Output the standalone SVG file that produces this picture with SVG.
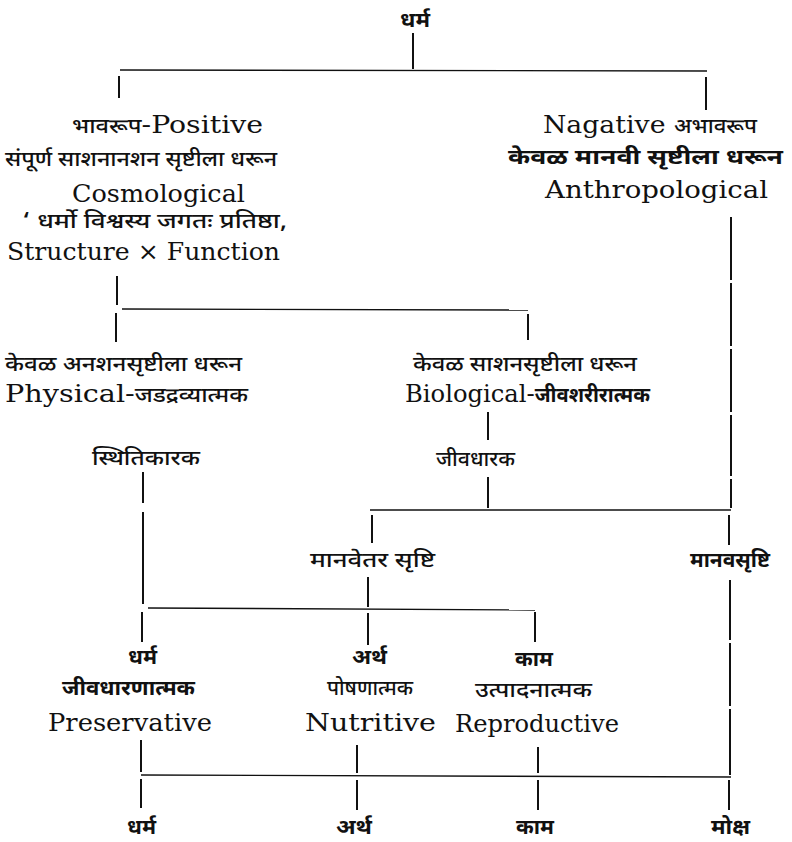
<svg xmlns="http://www.w3.org/2000/svg" width="792" height="842" viewBox="0 0 792 842">
<style>
.bg{fill:#ffffff}
.dv{font-family:"Noto Sans Devanagari","Noto Serif Devanagari","Lohit Devanagari","Noto Sans","DejaVu Sans",sans-serif;font-size:21px;font-weight:500;fill:#111}
.dvb{font-family:"Noto Sans Devanagari","Noto Serif Devanagari","Lohit Devanagari","Noto Sans","DejaVu Sans",sans-serif;font-size:21px;font-weight:bold;fill:#111}
.lt{font-family:"DejaVu Serif","Liberation Serif",serif;font-size:24px;fill:#111}
.ltd{font-family:"Noto Sans Devanagari","Noto Serif Devanagari","Lohit Devanagari","Noto Sans","DejaVu Sans",sans-serif;font-size:20px;font-weight:500}
.ltdb{font-family:"Noto Sans Devanagari","Noto Serif Devanagari","Lohit Devanagari","Noto Sans","DejaVu Sans",sans-serif;font-size:20px;font-weight:bold}
.v{stroke:#111;stroke-width:2;fill:none}
.h{stroke:#111;stroke-width:1.4;fill:none}
</style>
<rect class="bg" x="0" y="0" width="792" height="842"/>
<g id="connectors">
<line class="v" x1="413" y1="33" x2="413" y2="69"/>
<line class="h" x1="120" y1="70" x2="707" y2="71"/>
<line class="v" x1="119" y1="76" x2="119" y2="98"/>
<line class="v" x1="706" y1="77" x2="706" y2="110"/>
<line class="v" x1="117" y1="276" x2="117" y2="305"/>
<line class="h" x1="122" y1="309" x2="528" y2="310"/>
<line class="v" x1="116" y1="313" x2="116" y2="342"/>
<line class="v" x1="528" y1="314" x2="528" y2="340"/>
<line class="v" x1="488" y1="412" x2="488" y2="440"/>
<line class="v" x1="488" y1="477" x2="488" y2="508"/>
<line class="h" x1="370" y1="510" x2="731" y2="510"/>
<line class="v" x1="372" y1="515" x2="372" y2="543"/>
<line class="v" x1="731" y1="217" x2="731" y2="280"/>
<line class="v" x1="731" y1="283" x2="731" y2="346"/>
<line class="v" x1="731" y1="349" x2="731" y2="412"/>
<line class="v" x1="731" y1="415" x2="731" y2="476"/>
<line class="v" x1="731" y1="479" x2="731" y2="508"/>
<line class="v" x1="729" y1="515" x2="729" y2="545"/>
<line class="v" x1="143" y1="472" x2="143" y2="503"/>
<line class="v" x1="143" y1="512" x2="143" y2="604"/>
<line class="h" x1="148" y1="608" x2="535" y2="610"/>
<line class="v" x1="368" y1="577" x2="368" y2="607"/>
<line class="v" x1="142" y1="612" x2="142" y2="642"/>
<line class="v" x1="368" y1="613" x2="368" y2="645"/>
<line class="v" x1="535" y1="612" x2="535" y2="642"/>
<line class="v" x1="141" y1="740" x2="141" y2="772"/>
<line class="v" x1="357" y1="745" x2="357" y2="773"/>
<line class="v" x1="538" y1="747" x2="538" y2="773"/>
<line class="v" x1="730" y1="580" x2="730" y2="640"/>
<line class="v" x1="730" y1="643" x2="730" y2="706"/>
<line class="v" x1="730" y1="709" x2="730" y2="775"/>
<line class="h" x1="141" y1="775" x2="731" y2="777"/>
<line class="v" x1="141" y1="779" x2="141" y2="808"/>
<line class="v" x1="357" y1="780" x2="357" y2="810"/>
<line class="v" x1="538" y1="780" x2="538" y2="810"/>
<line class="v" x1="729" y1="780" x2="729" y2="810"/>
</g>
<g id="root"><text class="dvb" x="400" y="27" textLength="30" lengthAdjust="spacingAndGlyphs">धर्म</text></g>
<g id="positive">
<text class="lt" x="72" y="133" textLength="191" lengthAdjust="spacingAndGlyphs"><tspan class="ltd">भावरूप</tspan>-Positive</text>
<text class="dv" x="5" y="166" textLength="272" lengthAdjust="spacingAndGlyphs">संपूर्ण साशनानशन सृष्टीला धरून</text>
<text class="lt" x="72" y="202" textLength="173" lengthAdjust="spacingAndGlyphs">Cosmological</text>
<text class="dv" x="22" y="228" textLength="265" lengthAdjust="spacingAndGlyphs">‘ धर्मो विश्वस्य जगतः प्रतिष्ठा,</text>
<text class="lt" x="7" y="260" textLength="273" lengthAdjust="spacingAndGlyphs">Structure × Function</text>
</g>
<g id="negative">
<text class="lt" x="543" y="133" textLength="214" lengthAdjust="spacingAndGlyphs">Nagative <tspan class="ltd">अभावरूप</tspan></text>
<text class="dvb" x="508" y="164" textLength="275" lengthAdjust="spacingAndGlyphs">केवळ मानवी सृष्टीला धरून</text>
<text class="lt" x="545" y="198" textLength="223" lengthAdjust="spacingAndGlyphs">Anthropological</text>
</g>
<g id="physical">
<text class="dv" x="5" y="371" textLength="237" lengthAdjust="spacingAndGlyphs">केवळ अनशनसृष्टीला धरून</text>
<text class="lt" x="5" y="402" textLength="243" lengthAdjust="spacingAndGlyphs">Physical-<tspan class="ltd">जडद्रव्यात्मक</tspan></text>
</g>
<g id="biological">
<text class="dv" x="413" y="371" textLength="224" lengthAdjust="spacingAndGlyphs">केवळ साशनसृष्टीला धरून</text>
<text class="lt" x="405" y="402" textLength="245" lengthAdjust="spacingAndGlyphs">Biological-<tspan class="ltdb">जीवशरीरात्मक</tspan></text>
</g>
<g id="sthitikarak"><text class="dv" x="92" y="465" textLength="108" lengthAdjust="spacingAndGlyphs">स्थितिकारक</text></g>
<g id="jivadharak"><text class="dv" x="436" y="466" textLength="79" lengthAdjust="spacingAndGlyphs">जीवधारक</text></g>
<g id="manavetar"><text class="dv" x="310" y="567" textLength="125" lengthAdjust="spacingAndGlyphs">मानवेतर सृष्टि</text></g>
<g id="manavasrushti"><text class="dvb" x="690" y="567" textLength="80" lengthAdjust="spacingAndGlyphs">मानवसृष्टि</text></g>
<g id="preservative">
<text class="dvb" x="128" y="664" textLength="29" lengthAdjust="spacingAndGlyphs">धर्म</text>
<text class="dvb" x="62" y="695" textLength="133" lengthAdjust="spacingAndGlyphs">जीवधारणात्मक</text>
<text class="lt" x="48" y="731" textLength="164" lengthAdjust="spacingAndGlyphs">Preservative</text>
</g>
<g id="nutritive">
<text class="dvb" x="352" y="664" textLength="35" lengthAdjust="spacingAndGlyphs">अर्थ</text>
<text class="dv" x="327" y="695" textLength="86" lengthAdjust="spacingAndGlyphs">पोषणात्मक</text>
<text class="lt" x="305" y="731" textLength="131" lengthAdjust="spacingAndGlyphs">Nutritive</text>
</g>
<g id="reproductive">
<text class="dvb" x="515" y="666" textLength="38" lengthAdjust="spacingAndGlyphs">काम</text>
<text class="dv" x="475" y="697" textLength="117" lengthAdjust="spacingAndGlyphs">उत्पादनात्मक</text>
<text class="lt" x="455" y="732" textLength="164" lengthAdjust="spacingAndGlyphs">Reproductive</text>
</g>
<g id="dharma"><text class="dvb" x="127" y="834" textLength="29" lengthAdjust="spacingAndGlyphs">धर्म</text></g>
<g id="artha"><text class="dvb" x="336" y="834" textLength="36" lengthAdjust="spacingAndGlyphs">अर्थ</text></g>
<g id="kama"><text class="dvb" x="516" y="834" textLength="38" lengthAdjust="spacingAndGlyphs">काम</text></g>
<g id="moksha"><text class="dvb" x="711" y="834" textLength="39" lengthAdjust="spacingAndGlyphs">मोक्ष</text></g>
</svg>
